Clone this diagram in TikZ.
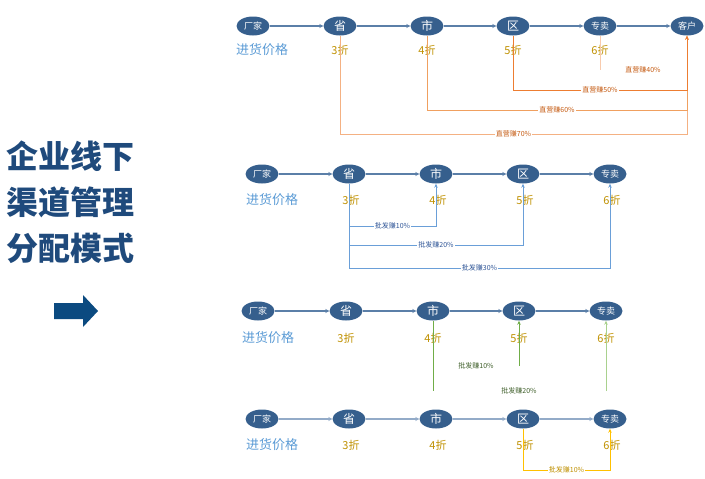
\documentclass[tikz,border=0pt]{standalone}
\usepackage{fontspec}
\setmainfont{Noto Sans CJK SC}
\usetikzlibrary{arrows.meta,shapes.geometric}
\definecolor{qdlan}{HTML}{365F8D}
\definecolor{qdxian}{HTML}{5B7FA8}
\definecolor{qdxianqian}{HTML}{93ABC8}
\definecolor{qdqianlan}{HTML}{5B9BD5}
\definecolor{qdjin}{HTML}{BF9000}
\definecolor{qdbiaoti}{HTML}{1F4A7C}
\definecolor{qdjian}{HTML}{0B4A80}
\definecolor{qdcheng}{HTML}{ED7D31}
\definecolor{qdchengzhong}{HTML}{F0A060}
\definecolor{qdchengqian}{HTML}{F4B183}
\definecolor{qdchengdan}{HTML}{F8CBAD}
\definecolor{qdchengzi}{HTML}{C55A11}
\definecolor{qdpifa}{HTML}{6A9FD8}
\definecolor{qdpifazi}{HTML}{2F5597}
\definecolor{qdlv}{HTML}{70AD47}
\definecolor{qdlvqian}{HTML}{A9D18E}
\definecolor{qdlvzi}{HTML}{3F5F2A}
\definecolor{qdhuang}{HTML}{FFC000}
\tikzset{
  qdjiedian/.style={ellipse, fill=qdlan, text=white, minimum width=33pt, minimum height=19pt,
                    inner sep=0pt, font=\fontsize{12}{12}\selectfont},
  qdjiedianxiao/.style={qdjiedian, font=\fontsize{9}{9}\selectfont},
  qdjiantou/.style={-{Stealth[length=4pt,width=4pt]}, line width=1.6pt, draw=qdxian},
  qdjiantouqian/.style={qdjiantou, line width=1.2pt, draw=qdxianqian},
  qdzhe/.style={text=qdjin, font=\fontsize{11}{11}\selectfont},
  qdjiage/.style={text=qdqianlan, font=\fontsize{13}{13}\selectfont},
  qdbiaoqian/.style={fill=white, inner sep=1pt, font=\fontsize{7}{7}\selectfont},
  qdzhiying/.style={-{Stealth[length=4pt,width=3.5pt]}, line width=0.9pt},
  qdpifaxian/.style={-{Stealth[length=4pt,width=3.5pt]}, line width=0.9pt, draw=qdpifa},
  qdlvxian/.style={-{Stealth[length=4pt,width=3.5pt]}, line width=0.9pt},
  qdbiaotizi/.style={text=qdbiaoti, align=left, font=\fontsize{32}{46}\selectfont\bfseries},
}
\begin{document}
\begin{tikzpicture}[x=1pt,y=-1pt]
  \useasboundingbox (0,0) rectangle (705,479);
  % left title
  \node[qdbiaotizi, anchor=west] (biaoti) at (3,202) {企业线下\\渠道管理\\分配模式};
  \fill[qdjian] (54,303) -- (83,303) -- (83,295) -- (98,311) -- (83,327) -- (83,319) -- (54,319) -- cycle;

  % row 1: direct sales
  \node[qdjiedianxiao] (achang) at (253,26) {厂家};
  \node[qdjiedian] (asheng) at (340,26) {省};
  \node[qdjiedian] (ashi) at (427,26) {市};
  \node[qdjiedian] (aqu) at (513,26) {区};
  \node[qdjiedianxiao] (azhuan) at (600,26) {专卖};
  \node[qdjiedianxiao] (ake) at (687,26) {客户};
  \draw[qdjiantou] (achang) -- (asheng);
  \draw[qdjiantou] (asheng) -- (ashi);
  \draw[qdjiantou] (ashi) -- (aqu);
  \draw[qdjiantou] (aqu) -- (azhuan);
  \draw[qdjiantou] (azhuan) -- (ake);
  \node[qdjiage] (ajia) at (262,50) {进货价格};
  \node[qdzhe] (azhe3) at (340,50) {3折};
  \node[qdzhe] (azhe4) at (427,50) {4折};
  \node[qdzhe] (azhe5) at (513,50) {5折};
  \node[qdzhe] (azhe6) at (600,50) {6折};
  \coordinate (a70) at (687,134);
  \coordinate (a60) at (687,110);
  \coordinate (a50) at (687,90);
  \coordinate (a40) at (600,70);
  \draw[qdzhiying, draw=qdchengqian] (asheng.south) |- node[qdbiaoqian, text=qdchengzi, pos=0.75] {直营赚70\%} (a70) -- (ake.south);
  \draw[qdzhiying, draw=qdchengzhong] (ashi.south) |- node[qdbiaoqian, text=qdchengzi, pos=0.75] {直营赚60\%} (a60) -- (ake.south);
  \draw[qdzhiying, draw=qdcheng] (aqu.south) |- node[qdbiaoqian, text=qdchengzi, pos=0.75] {直营赚50\%} (a50) -- (ake.south);
  \draw[line width=0.9pt, draw=qdchengdan] (azhuan.south) -- (a40);
  \node[qdbiaoqian, text=qdchengzi] (a40zi) at (643,70) {直营赚40\%};

  % row 2: province wholesale
  \node[qdjiedianxiao] (bchang) at (262,174) {厂家};
  \node[qdjiedian] (bsheng) at (349,174) {省};
  \node[qdjiedian] (bshi) at (436,174) {市};
  \node[qdjiedian] (bqu) at (523,174) {区};
  \node[qdjiedianxiao] (bzhuan) at (610,174) {专卖};
  \draw[qdjiantou] (bchang) -- (bsheng);
  \draw[qdjiantou] (bsheng) -- (bshi);
  \draw[qdjiantou] (bshi) -- (bqu);
  \draw[qdjiantou] (bqu) -- (bzhuan);
  \node[qdjiage] (bjia) at (272,200) {进货价格};
  \node[qdzhe] (bzhe3) at (351,200) {3折};
  \node[qdzhe] (bzhe4) at (438,200) {4折};
  \node[qdzhe] (bzhe5) at (525,200) {5折};
  \node[qdzhe] (bzhe6) at (612,200) {6折};
  \coordinate (b10) at (436,226);
  \coordinate (b20) at (523,245);
  \coordinate (b30) at (610,268);
  \draw[qdpifaxian] (bsheng.south) |- node[qdbiaoqian, text=qdpifazi, pos=0.75] {批发赚10\%} (b10) -- (bshi.south);
  \draw[qdpifaxian] (bsheng.south) |- node[qdbiaoqian, text=qdpifazi, pos=0.75] {批发赚20\%} (b20) -- (bqu.south);
  \draw[qdpifaxian] (bsheng.south) |- node[qdbiaoqian, text=qdpifazi, pos=0.75] {批发赚30\%} (b30) -- (bzhuan.south);

  % row 3: city wholesale
  \node[qdjiedianxiao] (cchang) at (258,311) {厂家};
  \node[qdjiedian] (csheng) at (346,311) {省};
  \node[qdjiedian] (cshi) at (433,311) {市};
  \node[qdjiedian] (cqu) at (519,311) {区};
  \node[qdjiedianxiao] (czhuan) at (606,311) {专卖};
  \draw[qdjiantou] (cchang) -- (csheng);
  \draw[qdjiantou] (csheng) -- (cshi);
  \draw[qdjiantou] (cshi) -- (cqu);
  \draw[qdjiantou] (cqu) -- (czhuan);
  \node[qdjiage] (cjia) at (268,338) {进货价格};
  \node[qdzhe] (czhe3) at (346,338) {3折};
  \node[qdzhe] (czhe4) at (433,338) {4折};
  \node[qdzhe] (czhe5) at (519,338) {5折};
  \node[qdzhe] (czhe6) at (606,338) {6折};
  \coordinate (c0) at (433,391);
  \coordinate (c10) at (519,366);
  \coordinate (c20) at (606,391);
  \draw[line width=0.9pt, draw=qdlv] (cshi.south) -- (c0);
  \draw[qdlvxian, draw=qdlv] (c10) -- (cqu.south);
  \draw[qdlvxian, draw=qdlvqian] (c20) -- (czhuan.south);
  \node[qdbiaoqian, text=qdlvzi] (c10zi) at (476,366) {批发赚10\%};
  \node[qdbiaoqian, text=qdlvzi] (c20zi) at (519,391) {批发赚20\%};

  % row 4: district wholesale
  \node[qdjiedianxiao] (dchang) at (262,419) {厂家};
  \node[qdjiedian] (dsheng) at (349,419) {省};
  \node[qdjiedian] (dshi) at (436,419) {市};
  \node[qdjiedian] (dqu) at (523,419) {区};
  \node[qdjiedianxiao] (dzhuan) at (610,419) {专卖};
  \draw[qdjiantouqian] (dchang) -- (dsheng);
  \draw[qdjiantouqian] (dsheng) -- (dshi);
  \draw[qdjiantouqian] (dshi) -- (dqu);
  \draw[qdjiantouqian] (dqu) -- (dzhuan);
  \node[qdjiage] (djia) at (272,445) {进货价格};
  \node[qdzhe] (dzhe3) at (351,445) {3折};
  \node[qdzhe] (dzhe4) at (438,445) {4折};
  \node[qdzhe] (dzhe5) at (525,445) {5折};
  \node[qdzhe] (dzhe6) at (612,445) {6折};
  \coordinate (d10) at (610,470);
  \draw[qdlvxian, draw=qdhuang] (dqu.south) |- node[qdbiaoqian, text=qdjin, pos=0.75] {批发赚10\%} (d10) -- (dzhuan.south);
\end{tikzpicture}
\end{document}
